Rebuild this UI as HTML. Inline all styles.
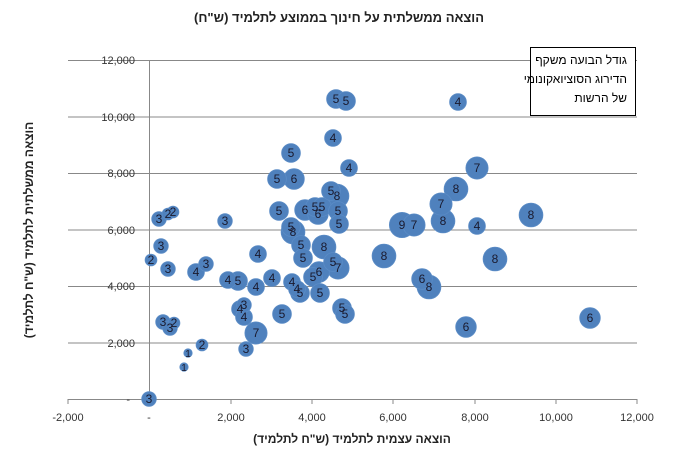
<!DOCTYPE html>
<html><head><meta charset="utf-8"><style>
html,body{margin:0;padding:0;background:#fff;}
svg{display:block;font-family:"Liberation Sans",sans-serif;}
.c{fill:#4f81bd;stroke:#5b8cc6;stroke-width:0.8}
.t text{font-size:12px;fill:#1a1a2e;text-anchor:middle}
</style></head><body>
<svg width="678" height="456" xmlns="http://www.w3.org/2000/svg">
<rect width="678" height="456" fill="#fff"/>
<text x="339" y="22" text-anchor="middle" font-size="13" font-weight="bold" fill="#222" direction="rtl">הוצאה ממשלתית על חינוך בממוצע לתלמיד (ש"ח)</text>
<g stroke="#888" stroke-width="1">
<line x1="68" y1="60.5" x2="637" y2="60.5"/>
<line x1="68" y1="117" x2="637" y2="117"/>
<line x1="68" y1="173.5" x2="637" y2="173.5"/>
<line x1="68" y1="230" x2="637" y2="230"/>
<line x1="68" y1="286.5" x2="637" y2="286.5"/>
<line x1="68" y1="343" x2="637" y2="343"/>
<line x1="68" y1="399.5" x2="637" y2="399.5"/>
<line x1="149.5" y1="60" x2="149.5" y2="399"/>
<line x1="68" y1="399" x2="68" y2="404"/><line x1="149.5" y1="399" x2="149.5" y2="404"/>
<line x1="231" y1="399" x2="231" y2="404"/><line x1="312" y1="399" x2="312" y2="404"/>
<line x1="393" y1="399" x2="393" y2="404"/><line x1="475" y1="399" x2="475" y2="404"/>
<line x1="556" y1="399" x2="556" y2="404"/><line x1="637" y1="399" x2="637" y2="404"/>
</g>
<g font-size="11" fill="#333" text-anchor="end">
<text x="135" y="64">12,000</text><text x="135" y="121">10,000</text><text x="135" y="177">8,000</text>
<text x="135" y="234">6,000</text><text x="135" y="290">4,000</text><text x="135" y="347">2,000</text>
<text x="130" y="403">-</text>
</g>
<g font-size="11" fill="#333" text-anchor="middle">
<text x="68" y="421">-2,000</text><text x="149" y="421">-</text><text x="231" y="421">2,000</text>
<text x="312" y="421">4,000</text><text x="393" y="421">6,000</text><text x="475" y="421">8,000</text>
<text x="556" y="421">10,000</text><text x="637" y="421">12,000</text>
</g>
<text x="352" y="443" text-anchor="middle" font-size="12" font-weight="bold" fill="#222" direction="rtl">הוצאה עצמית לתלמיד (ש"ח לתלמיד)</text>
<text transform="translate(33,230) rotate(-90)" text-anchor="middle" font-size="12" font-weight="bold" fill="#222" direction="rtl">הוצאה ממשלתית לתלמיד (ש"ח לתלמיד)</text>
<rect x="530.5" y="47.5" width="105" height="68" fill="#fff" stroke="#000"/>
<g font-size="12" fill="#000" text-anchor="start" direction="rtl">
<text x="627" y="64">גודל הבועה משקף</text>
<text x="627" y="83">הדירוג הסוציואקונומי</text>
<text x="627" y="102">של הרשות</text>
</g>
<g>
<circle class="c" cx="402" cy="225" r="12.6"/><circle class="c" cx="456" cy="189" r="11.9"/><circle class="c" cx="443" cy="221" r="11.9"/><circle class="c" cx="384" cy="256" r="11.9"/><circle class="c" cx="495" cy="259" r="11.9"/><circle class="c" cx="429" cy="287" r="11.9"/><circle class="c" cx="337" cy="196" r="11.9"/><circle class="c" cx="293" cy="232" r="11.9"/><circle class="c" cx="324" cy="247" r="11.9"/><circle class="c" cx="531" cy="215" r="11.9"/>
<circle class="c" cx="477" cy="168" r="11.1"/><circle class="c" cx="441" cy="204" r="11.1"/><circle class="c" cx="414" cy="225" r="11.1"/><circle class="c" cx="338" cy="268" r="11.1"/><circle class="c" cx="256" cy="333" r="11.1"/>
<circle class="c" cx="305" cy="210" r="10.3"/><circle class="c" cx="318" cy="214" r="10.3"/><circle class="c" cx="294" cy="179" r="10.3"/><circle class="c" cx="319" cy="272" r="10.3"/><circle class="c" cx="422" cy="279" r="10.3"/><circle class="c" cx="466" cy="327" r="10.3"/><circle class="c" cx="590" cy="318" r="10.3"/>
<circle class="c" cx="279" cy="211" r="9.4"/><circle class="c" cx="315" cy="207" r="9.4"/><circle class="c" cx="322" cy="207" r="9.4"/><circle class="c" cx="338" cy="211" r="9.4"/><circle class="c" cx="339" cy="224" r="9.4"/><circle class="c" cx="291" cy="227" r="9.4"/><circle class="c" cx="301" cy="245" r="9.4"/><circle class="c" cx="303" cy="258" r="9.4"/><circle class="c" cx="333" cy="262" r="9.4"/><circle class="c" cx="313" cy="277" r="9.4"/><circle class="c" cx="238" cy="281" r="9.4"/><circle class="c" cx="300" cy="293" r="9.4"/><circle class="c" cx="320" cy="293" r="9.4"/><circle class="c" cx="282" cy="314" r="9.4"/><circle class="c" cx="342" cy="308" r="9.4"/><circle class="c" cx="345" cy="314" r="9.4"/><circle class="c" cx="336" cy="99" r="9.4"/><circle class="c" cx="346" cy="101" r="9.4"/><circle class="c" cx="291" cy="153" r="9.4"/><circle class="c" cx="277" cy="179" r="9.4"/><circle class="c" cx="331" cy="191" r="9.4"/>
<circle class="c" cx="458" cy="102" r="8.4"/><circle class="c" cx="333" cy="138" r="8.4"/><circle class="c" cx="349" cy="168" r="8.4"/><circle class="c" cx="477" cy="226" r="8.4"/><circle class="c" cx="258" cy="254" r="8.4"/><circle class="c" cx="196" cy="272" r="8.4"/><circle class="c" cx="228" cy="280" r="8.4"/><circle class="c" cx="256" cy="287" r="8.4"/><circle class="c" cx="272" cy="278" r="8.4"/><circle class="c" cx="292" cy="282" r="8.4"/><circle class="c" cx="297" cy="289" r="8.4"/><circle class="c" cx="240" cy="309" r="8.4"/><circle class="c" cx="244" cy="317" r="8.4"/>
<circle class="c" cx="225" cy="221" r="7.3"/><circle class="c" cx="159" cy="219" r="7.3"/><circle class="c" cx="161" cy="246" r="7.3"/><circle class="c" cx="168" cy="269" r="7.3"/><circle class="c" cx="206" cy="264" r="7.3"/><circle class="c" cx="244" cy="305" r="7.3"/><circle class="c" cx="163" cy="322" r="7.3"/><circle class="c" cx="170" cy="328" r="7.3"/><circle class="c" cx="246" cy="349" r="7.3"/><circle class="c" cx="149" cy="399" r="7.3"/>
<circle class="c" cx="168" cy="214" r="5.9"/><circle class="c" cx="173" cy="212" r="5.9"/><circle class="c" cx="151" cy="260" r="5.9"/><circle class="c" cx="174" cy="323" r="5.9"/><circle class="c" cx="202" cy="345" r="5.9"/>
<circle class="c" cx="188" cy="353" r="4.2"/><circle class="c" cx="184" cy="367" r="4.2"/>
</g>
<g class="t">
<text x="402" y="229">9</text><text x="456" y="193">8</text><text x="443" y="225">8</text><text x="384" y="260">8</text><text x="495" y="263">8</text><text x="429" y="291">8</text><text x="337" y="200">8</text><text x="293" y="236">8</text><text x="324" y="251">8</text><text x="531" y="219">8</text>
<text x="477" y="172">7</text><text x="441" y="208">7</text><text x="414" y="229">7</text><text x="338" y="272">7</text><text x="256" y="337">7</text>
<text x="305" y="214">6</text><text x="318" y="218">6</text><text x="294" y="183">6</text><text x="319" y="276">6</text><text x="422" y="283">6</text><text x="466" y="331">6</text><text x="590" y="322">6</text>
<text x="279" y="215">5</text><text x="315" y="211">5</text><text x="322" y="211">5</text><text x="338" y="215">5</text><text x="339" y="228">5</text><text x="291" y="231">5</text><text x="301" y="249">5</text><text x="303" y="262">5</text><text x="333" y="266">5</text><text x="313" y="281">5</text><text x="238" y="285">5</text><text x="300" y="297">5</text><text x="320" y="297">5</text><text x="282" y="318">5</text><text x="342" y="312">5</text><text x="345" y="318">5</text><text x="336" y="103">5</text><text x="346" y="105">5</text><text x="291" y="157">5</text><text x="277" y="183">5</text><text x="331" y="195">5</text>
<text x="458" y="106">4</text><text x="333" y="142">4</text><text x="349" y="172">4</text><text x="477" y="230">4</text><text x="258" y="258">4</text><text x="196" y="276">4</text><text x="228" y="284">4</text><text x="256" y="291">4</text><text x="272" y="282">4</text><text x="292" y="286">4</text><text x="297" y="293">4</text><text x="240" y="313">4</text><text x="244" y="321">4</text>
<text x="225" y="225">3</text><text x="159" y="223">3</text><text x="161" y="250">3</text><text x="168" y="273">3</text><text x="206" y="268">3</text><text x="244" y="309">3</text><text x="163" y="326">3</text><text x="170" y="332">3</text><text x="246" y="353">3</text><text x="149" y="403">3</text>
<text x="168" y="218">2</text><text x="173" y="216">2</text><text x="151" y="264">2</text><text x="174" y="327">2</text><text x="202" y="349">2</text>
<text x="188" y="357" style="font-size:10px">1</text><text x="184" y="371" style="font-size:10px">1</text>
</g>
</svg>
</body></html>
